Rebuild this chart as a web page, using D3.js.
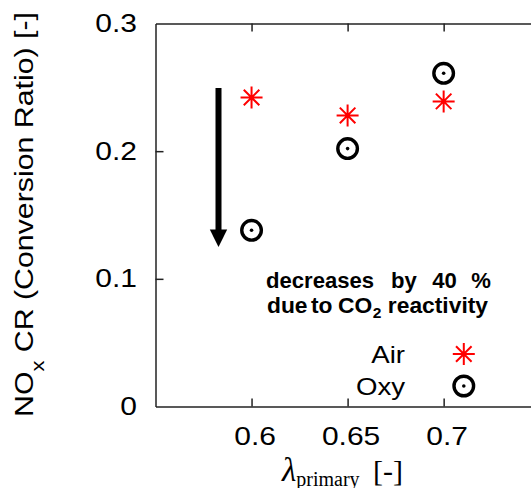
<!DOCTYPE html>
<html>
<head>
<meta charset="utf-8">
<script src="https://cdn.jsdelivr.net/npm/d3@7"></script>
<style>
  html, body { margin: 0; padding: 0; background: #fff; }
  svg { display: block; }
  text { font-family: "Liberation Sans", Arial, sans-serif; fill: #000; }
</style>
</head>
<body>
<svg id="chart" width="531" height="488"></svg>
<script>
// ---- data ----
const categories = [0.6, 0.65, 0.7];
const airValues = [0.242, 0.228, 0.239];
const oxyValues = [0.138, 0.202, 0.261];
const seriesNames = ["Air", "Oxy"];
const xTicks = [0.6, 0.65, 0.7];
const xTickLabels = ["0.6", "0.65", "0.7"];
const yTicks = [0, 0.1, 0.2, 0.3];
const yTickLabels = ["0", "0.1", "0.2", "0.3"];
const xDomain = [0.55, 0.75];
const yDomain = [0, 0.3];

const svg = d3.select("#chart");
const x = d3.scaleLinear().domain(xDomain).range([155.5, 539.7]);
const y = d3.scaleLinear().domain(yDomain).range([406.5, 23.5]);

function stretch(sel, k) {
  sel.each(function () {
    const L = this.getComputedTextLength();
    d3.select(this).attr("textLength", L * k).attr("lengthAdjust", "spacingAndGlyphs");
  });
}

const axisColor = "#222";
function styleAxis(g) {
  g.selectAll("path.domain").attr("stroke", axisColor).attr("stroke-width", 1.5);
  g.selectAll(".tick line").attr("stroke", axisColor).attr("stroke-width", 1.5);
  g.selectAll("text").attr("font-size", 25).attr("fill", "#000")
    .attr("font-family", "'Liberation Sans', Arial, sans-serif");
}

// bottom axis
const gx = svg.append("g").attr("transform", `translate(0,${y(0)})`)
  .call(d3.axisBottom(x).tickValues(xTicks).tickSize(-8).tickSizeOuter(0).tickPadding(21)
    .tickFormat((d, i) => xTickLabels[i]));
styleAxis(gx);
gx.selectAll("text").attr("dx", 3);
stretch(gx.selectAll("text"), 1.2);

// top axis (mirror ticks)
const gt = svg.append("g").attr("transform", `translate(0,${y(0.3)})`)
  .call(d3.axisTop(x).tickValues(xTicks).tickSize(-8).tickSizeOuter(0).tickFormat(""));
styleAxis(gt);

// left axis
const gy = svg.append("g").attr("transform", `translate(${x(0.55)},0)`)
  .call(d3.axisLeft(y).tickValues(yTicks).tickSize(-8).tickSizeOuter(0).tickPadding(18.5)
    .tickFormat((d, i) => yTickLabels[i]));
styleAxis(gy);
gy.selectAll(".tick").filter(d => d === 0 || d === 0.3).select("line").remove();
stretch(gy.selectAll("text"), 1.2);

// ---- markers ----
function asteriskPath(r) {
  const p = d3.path();
  for (let k = 0; k < 4; k++) {
    const a = k * Math.PI / 4;
    p.moveTo(-r * Math.cos(a), -r * Math.sin(a));
    p.lineTo(r * Math.cos(a), r * Math.sin(a));
  }
  return p.toString();
}
function drawAir(g) {
  g.append("path").attr("d", asteriskPath(11)).attr("stroke", "#ff0000")
    .attr("stroke-width", 2).attr("fill", "none");
}
function drawOxy(g) {
  g.append("circle").attr("r", 9.8).attr("fill", "none").attr("stroke", "#000").attr("stroke-width", 3.4);
  g.append("circle").attr("r", 1.8).attr("fill", "#000");
}

const airData = categories.map((c, i) => ({ x: c, y: airValues[i] }));
const oxyData = categories.map((c, i) => ({ x: c, y: oxyValues[i] }));

svg.append("g").selectAll("g").data(airData).join("g")
  .attr("transform", d => `translate(${x(d.x)},${y(d.y)})`)
  .each(function () { drawAir(d3.select(this)); });
svg.append("g").selectAll("g").data(oxyData).join("g")
  .attr("transform", d => `translate(${x(d.x)},${y(d.y)})`)
  .each(function () { drawOxy(d3.select(this)); });

// ---- arrow ----
svg.append("line").attr("x1", 218.5).attr("x2", 218.5).attr("y1", 88).attr("y2", 232)
  .attr("stroke", "#000").attr("stroke-width", 6);
svg.append("path").attr("d", "M209.8,229.5 L227.2,229.5 L218.5,247 Z").attr("fill", "#000");

// ---- annotation ----
const ann = svg.append("g");
function annText(str, yy, fs) {
  return ann.append("text").attr("x", 0).attr("y", yy)
    .style("font-size", fs + "px").style("font-weight", "bold").text(str);
}
function layoutLine(items, x0, x1) {
  // items: [textSel, gapAfter]
  const w = items.map(it => it[0].node().getComputedTextLength());
  const gaps = d3.sum(items.slice(0, -1), it => it[1]);
  const k = (x1 - x0 - gaps) / d3.sum(w);
  let cx = x0;
  items.forEach((it, i) => {
    it[0].attr("x", cx).attr("textLength", w[i] * k).attr("lengthAdjust", "spacingAndGlyphs");
    cx += w[i] * k + it[1];
  });
}
layoutLine([
  [annText("decreases", 287.5, 22), 17],
  [annText("by", 287.5, 22), 15.5],
  [annText("40", 287.5, 22), 14.5],
  [annText("%", 287.5, 22), 0]
], 266, 491);
layoutLine([
  [annText("due", 313, 22), 3.5],
  [annText("to", 313, 22), 5.5],
  [annText("CO", 313, 22), 0.5],
  [annText("2", 318, 15), 6.5],
  [annText("reactivity", 313, 22), 0]
], 267, 488);

// ---- legend ----
const leg = svg.append("g");
const legRows = [
  { name: seriesNames[0], ty: 363.3, my: 354, draw: drawAir },
  { name: seriesNames[1], ty: 394.5, my: 386, draw: drawOxy }
];
legRows.forEach(r => {
  const t = leg.append("text").attr("x", 405).attr("y", r.ty).attr("text-anchor", "end")
    .attr("font-size", 24).text(r.name);
  stretch(t, 1.15);
  const g = leg.append("g").attr("transform", `translate(463.8,${r.my})`);
  r.draw(g);
});

// ---- axis titles ----
const xl = svg.append("text").attr("x", 282).attr("y", 480.5)
  .style("font-family", "'Liberation Serif', 'Times New Roman', serif").attr("font-size", 30);
xl.append("tspan").attr("font-style", "italic").attr("font-size", 33).text("λ");
xl.append("tspan").attr("font-size", 20).attr("dy", 5).text("primary");
xl.append("tspan").attr("x", 373).attr("dy", -5).text("[-]");

const yl = svg.append("text").attr("transform", "translate(33,214.5) rotate(-90)")
  .attr("text-anchor", "middle").attr("font-size", 25);
yl.append("tspan").text("NO");
yl.append("tspan").attr("font-size", 18).attr("dy", 11).text("x");
yl.append("tspan").attr("dy", -11).text(" CR (Conversion Ratio) [-]");
yl.attr("textLength", 405).attr("lengthAdjust", "spacingAndGlyphs");
</script>
</body>
</html>
